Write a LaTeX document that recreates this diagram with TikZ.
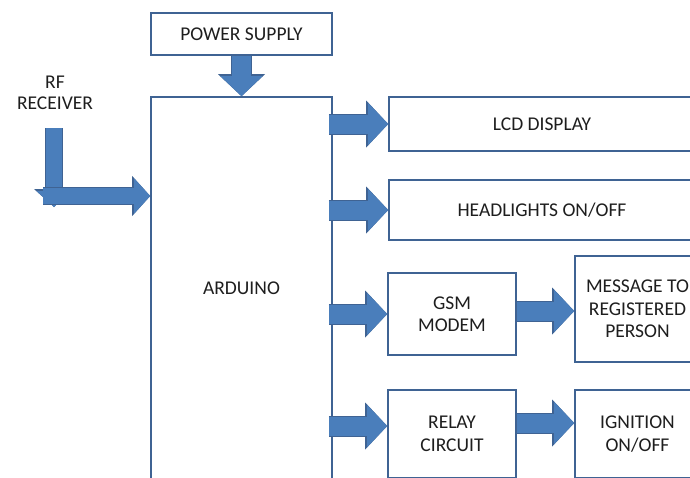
\documentclass[tikz,border=0pt]{standalone}
\usepackage{fontspec}
\setmainfont{Carlito}
\usepackage{tikz}
\usetikzlibrary{arrows.meta,positioning}
\definecolor{edgec}{HTML}{3F6393}
\definecolor{arrc}{HTML}{4A7EBB}
\definecolor{txtc}{HTML}{1E1E1E}
\tikzset{
  box/.style={draw=edgec,line width=1.6pt,fill=white,align=center,text=txtc,font=\fontsize{19.5}{22.5}\selectfont,inner sep=0pt},
  lbl/.style={align=center,text=txtc,font=\fontsize{19.5}{21}\selectfont,inner sep=0pt},
  bar/.style={line width=19pt,arrc,arrows={-Triangle[length=20pt,width=42pt,line width=0pt]},
    preaction={draw=edgec,line width=21pt,arrows={-Triangle[length=22pt,width=47pt,line width=0pt]}}},
  sbar/.style={line width=16pt,arrc,arrows={-Triangle[length=16pt,width=35pt,line width=0pt]},
    preaction={draw=edgec,line width=18pt,arrows={-Triangle[length=18pt,width=40pt,line width=0pt]}}}
}
\begin{document}
\begin{tikzpicture}[x=1pt,y=-1pt]
\useasboundingbox (0,0) rectangle (690,477);
\clip (0,0) rectangle (690,477);
% blocks
\node[box,minimum width=181pt,minimum height=42pt] (pwr) at (241.5,34) {POWER SUPPLY};
\node[box,minimum width=181pt,minimum height=382pt] (ard) at (241.5,288) {ARDUINO};
\node[box,minimum width=306pt,minimum height=54pt] (lcd) at (542,124) {LCD DISPLAY};
\node[box,minimum width=306pt,minimum height=60pt] (head) at (542,210) {HEADLIGHTS ON/OFF};
\node[box,minimum width=128pt,minimum height=82pt] (gsm) at (452,314) {GSM\\MODEM};
\node[box,minimum width=125pt,minimum height=106pt] (msg) at (637.5,309) {MESSAGE TO\\REGISTERED\\PERSON};
\node[box,minimum width=128pt,minimum height=88pt] (relay) at (452,434) {RELAY\\CIRCUIT};
\node[box,minimum width=125pt,minimum height=88pt] (ign) at (637.5,434) {IGNITION\\ON/OFF};
\node[lbl] (rf) at (55,93) {RF\\RECEIVER};
\coordinate (rfa) at (54,128);
\coordinate (rfb) at (54,196);
% block arrows
\draw[bar] (pwr.south) -- (ard.north);
\draw[sbar] (rfa) -- ([yshift=-11pt]rfb);
\draw[sbar] ([xshift=-11pt]rfb) -- (rfb-|ard.west);
\draw[bar] ([xshift=-4pt]ard.east|-lcd.west) -- (lcd.west);
\draw[bar] ([xshift=-4pt]ard.east|-head.west) -- (head.west);
\draw[bar] ([xshift=-4pt]ard.east|-gsm.west) -- (gsm.west);
\draw[bar] ([xshift=-4pt,yshift=8pt]ard.east|-relay.west) -- ([yshift=8pt]relay.west);
\draw[bar] ([yshift=3pt]gsm.east) -- ([yshift=3pt]gsm.east-|msg.west);
\draw[bar] ([yshift=11pt]relay.east) -- ([yshift=11pt]relay.east-|ign.west);
\end{tikzpicture}
\end{document}
